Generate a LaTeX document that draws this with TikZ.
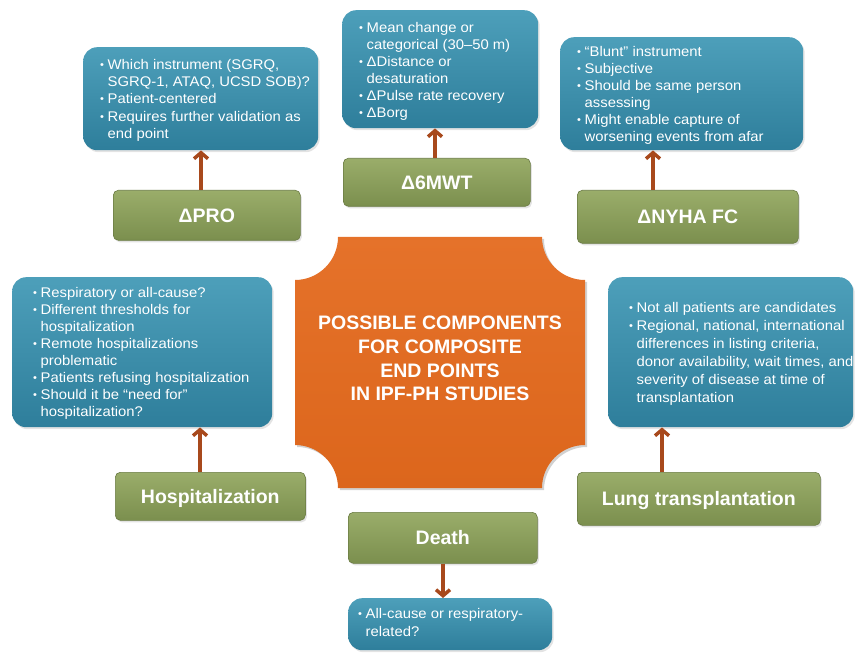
\documentclass[tikz,border=0pt]{standalone}
\usepackage{fontspec}
\setmainfont{Liberation Sans}
\newfontfamily\bodyfont{Liberation Sans}[FakeStretch=1.06]
\usetikzlibrary{arrows.meta,shadows}
\definecolor{bluetop}{HTML}{4D9FBA}
\definecolor{bluebot}{HTML}{2E7E9B}
\definecolor{greentop}{HTML}{9AAD6A}
\definecolor{greenbot}{HTML}{7B8F4E}
\definecolor{orangetop}{HTML}{E5722A}
\definecolor{orangebot}{HTML}{DC661C}
\definecolor{arrowc}{HTML}{A8491C}
\newcommand{\bu}{\makebox[7.5pt][l]{\fontsize{10.5}{10}\selectfont\raisebox{1pt}{•}}}
\newcommand{\ind}{\hspace*{7.5pt}}
\begin{document}
\begin{tikzpicture}[x=1pt,y=-1pt,
  bluebox/.style={rounded corners=14pt, top color=bluetop, bottom color=bluebot,
    draw=none, anchor=north west, inner sep=0pt,
    drop shadow={opacity=0.22,shadow xshift=1.5pt,shadow yshift=-2pt}},
  greenbox/.style={rounded corners=5pt, top color=greentop, bottom color=greenbot,
    draw=greenbot!85!black, line width=0.6pt, anchor=north west, inner sep=0pt,
    text=white, font=\bfseries\fontsize{19.5}{22}\selectfont,
    text height=14pt, text depth=0pt,
    drop shadow={opacity=0.22,shadow xshift=1.5pt,shadow yshift=-2pt}},
  btext/.style={anchor=north west, align=left, text=white, inner sep=0pt,
    font=\bodyfont\fontsize{14}{17.3}\selectfont},
  arr/.style={draw=arrowc, line width=3.5pt, -{Straight Barb[length=6pt,width=14pt]}}]
\useasboundingbox (0,0) rectangle (855,658);

% central plaque
\fill[black, opacity=0.18, xshift=2pt, yshift=-2pt]
  (338,237) -- (542,237) .. controls (542,260.7) and (561.3,280) .. (585,280)
  -- (585,445) .. controls (561.3,445) and (542,464.3) .. (542,488)
  -- (338,488) .. controls (338,464.3) and (318.7,445) .. (295,445)
  -- (295,280) .. controls (318.7,280) and (338,260.7) .. (338,237) -- cycle;
\shade[top color=orangetop, bottom color=orangebot]
  (338,237) -- (542,237) .. controls (542,260.7) and (561.3,280) .. (585,280)
  -- (585,445) .. controls (561.3,445) and (542,464.3) .. (542,488)
  -- (338,488) .. controls (338,464.3) and (318.7,445) .. (295,445)
  -- (295,280) .. controls (318.7,280) and (338,260.7) .. (338,237) -- cycle;
\node[text=white, align=center, inner sep=0pt,
  font=\bfseries\fontsize{19.5}{23.7}\selectfont] (center) at (440,358.5)
  {POSSIBLE COMPONENTS\\FOR COMPOSITE\\END POINTS\\IN IPF-PH STUDIES};

% blue boxes
\node[bluebox, minimum width=235pt, minimum height=103pt] (pro) at (83,47) {};
\node[bluebox, minimum width=196pt, minimum height=118pt] (mwt) at (342,10) {};
\node[bluebox, minimum width=243pt, minimum height=113pt] (nyha) at (560,37) {};
\node[bluebox, minimum width=260pt, minimum height=150pt] (hosp) at (12,277) {};
\node[bluebox, minimum width=245pt, minimum height=150pt] (lung) at (608,277) {};
\node[bluebox, minimum width=204pt, minimum height=52pt] (death) at (348,598) {};

% green boxes
\node[greenbox, minimum width=187pt, minimum height=50pt] (prog) at (113,190) {ΔPRO};
\node[greenbox, minimum width=187pt, minimum height=48pt] (mwtg) at (343,158) {Δ6MWT};
\node[greenbox, minimum width=221pt, minimum height=53pt] (nyhag) at (577,190) {ΔNYHA FC};
\node[greenbox, minimum width=190pt, minimum height=48pt] (hospg) at (115,472) {Hospitalization};
\node[greenbox, minimum width=243pt, minimum height=53pt] (lungg) at (577,472) {Lung transplantation};
\node[greenbox, minimum width=189pt, minimum height=51pt] (deathg) at (348,512) {Death};

% texts (top = first baseline - 10.2)
\node[btext] (protx) at (100,58.8)
  {\bu Which instrument (SGRQ,\\ \ind SGRQ-1, ATAQ, UCSD SOB)?\\ \bu Patient-centered\\ \bu Requires further validation as\\ \ind end point};
\node[btext, font=\bodyfont\fontsize{14}{17}\selectfont] (mwttx) at (359,21.8)
  {\bu Mean change or\\ \ind categorical (30–50 m)\\ \bu ΔDistance or\\ \ind desaturation\\ \bu ΔPulse rate recovery\\ \bu ΔBorg};
\node[btext, font=\bodyfont\fontsize{14}{17}\selectfont] (nyhatx) at (577,45.8)
  {\bu “Blunt” instrument\\ \bu Subjective\\ \bu Should be same person\\ \ind assessing\\ \bu Might enable capture of\\ \ind worsening events from afar};
\node[btext, font=\bodyfont\fontsize{14}{17.1}\selectfont] (hosptx) at (33,286.8)
  {\bu Respiratory or all-cause?\\ \bu Different thresholds for\\ \ind hospitalization\\ \bu Remote hospitalizations\\ \ind problematic\\ \bu Patients refusing hospitalization\\ \bu Should it be “need for”\\ \ind hospitalization?};
\node[btext, font=\bodyfont\fontsize{14}{18}\selectfont] (lungtx) at (629,301.8)
  {\bu Not all patients are candidates\\ \bu Regional, national, international\\ \ind differences in listing criteria,\\ \ind donor availability, wait times, and\\ \ind severity of disease at time of\\ \ind transplantation};
\node[btext, font=\bodyfont\fontsize{14}{18}\selectfont] (deathtx) at (358,607.8)
  {\bu All-cause or respiratory-\\ \ind related?};

% arrows
\coordinate (xpro) at (201,0);
\coordinate (xmwt) at (435,0);
\coordinate (xnyha) at (653,0);
\coordinate (xhosp) at (200,0);
\coordinate (xlung) at (662,0);
\coordinate (xdeath) at (443,0);
\draw[arr] (prog.north -| xpro) -- (pro.south -| xpro);
\draw[arr] (mwtg.north -| xmwt) -- (mwt.south -| xmwt);
\draw[arr] (nyhag.north -| xnyha) -- (nyha.south -| xnyha);
\draw[arr] (hospg.north -| xhosp) -- (hosp.south -| xhosp);
\draw[arr] (lungg.north -| xlung) -- (lung.south -| xlung);
\draw[arr] (deathg.south -| xdeath) -- (death.north -| xdeath);
\end{tikzpicture}
\end{document}
